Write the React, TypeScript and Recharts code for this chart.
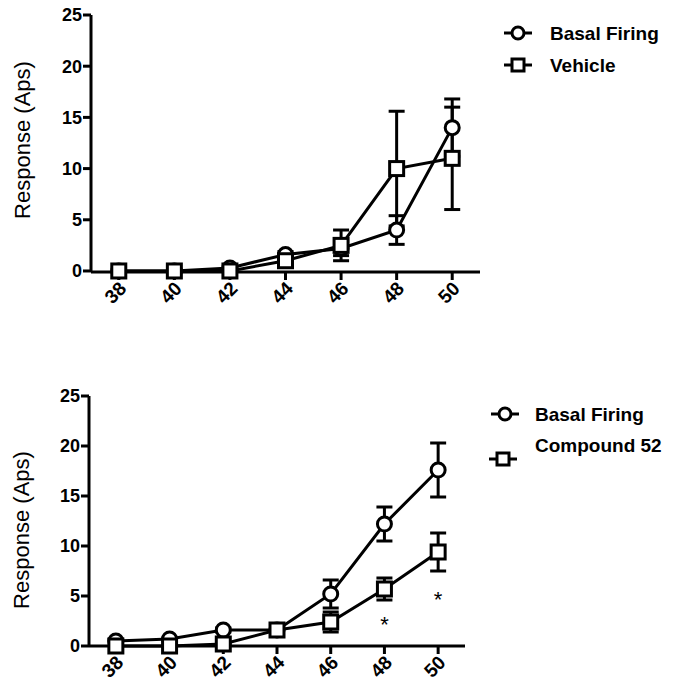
import { ComposedChart, Line, XAxis, YAxis, ErrorBar, Scatter } from "recharts"

const temps = [38, 40, 42, 44, 46, 48, 50]
const xTicks = [38, 40, 42, 44, 46, 48, 50]
const yTicks = [0, 5, 10, 15, 20, 25]

// top panel: basal firing vs vehicle
const basalTop = [0, 0, 0.3, 1.6, 2.2, 4.0, 14.0]
const basalTopErr = [0, 0, 0.2, 0.3, 0.7, 1.4, 2.8]
const vehicleTop = [0, 0, 0, 1.0, 2.5, 10.0, 11.0]
const vehicleTopErr = [0, 0, 0.1, 0.4, 1.5, 5.6, 5.0]

// bottom panel: basal firing vs compound 52
const basalBottom = [0.5, 0.7, 1.6, 1.6, 5.2, 12.2, 17.6]
const basalBottomErr = [0.1, 0.1, 0.2, 0.2, 1.4, 1.7, 2.7]
const compoundBottom = [0, 0, 0.2, 1.6, 2.4, 5.7, 9.4]
const compoundBottomErr = [0, 0, 0.1, 0.2, 1.0, 1.1, 1.9]

// significance markers
const starTemps = [48, 50]
const starValues = [2.6, 5.1]

const FONT = "'Liberation Sans', Arial, Helvetica, sans-serif"

const topRows = temps.map((t, i) => ({
    temp: t,
    a: basalTop[i],
    aErr: basalTopErr[i],
    b: vehicleTop[i],
    bErr: vehicleTopErr[i],
}))

const bottomRows = temps.map((t, i) => ({
    temp: t,
    a: basalBottom[i],
    aErr: basalBottomErr[i],
    b: compoundBottom[i],
    bErr: compoundBottomErr[i],
}))

const starRows = starTemps.map((t, i) => ({ temp: t, star: starValues[i] }))

const XTick = (props: any) => {
    const { x, y, payload, bold } = props
    return (
        <g transform={`translate(${x + 4},${y + 3})`}>
            <text
                x={0}
                y={0}
                dy="0.35em"
                textAnchor="end"
                transform="rotate(-45)"
                fontFamily={FONT}
                fontSize={19}
                fontWeight={bold ? "bold" : "normal"}
                fill="#000"
            >
                {payload.value}
            </text>
        </g>
    )
}

const squareDot = (props: any) => {
    const { cx, cy, index } = props
    if (cx == null || cy == null) return <g key={`sq-${index}`} />
    return (
        <rect
            key={`sq-${index}`}
            x={cx - 7}
            y={cy - 7}
            width={14}
            height={14}
            fill="#fff"
            stroke="#000"
            strokeWidth={3}
        />
    )
}

const starShape = (props: any) => {
    const { cx, cy } = props
    return (
        <text x={cx} y={cy + 12} textAnchor="middle" fontFamily={FONT} fontSize={22} fill="#000">
            *
        </text>
    )
}

function Panel({ rows, top, height, margin, yWidth, xHeight, labelX, labelY, bold, stars }: any) {
    return (
        <div style={{ position: "absolute", left: 0, top }}>
            <ComposedChart width={674} height={height} data={rows} margin={margin}>
                <XAxis
                    dataKey="temp"
                    type="number"
                    domain={[37, 51]}
                    ticks={xTicks}
                    height={xHeight}
                    tickSize={8}
                    tickMargin={2}
                    axisLine={{ stroke: "#000", strokeWidth: 3 }}
                    tickLine={{ stroke: "#000", strokeWidth: 3 }}
                    tick={<XTick bold={bold} />}
                    interval={0}
                />
                <YAxis
                    type="number"
                    domain={[0, 25]}
                    ticks={yTicks}
                    width={yWidth}
                    tickSize={8}
                    tickMargin={1}
                    axisLine={{ stroke: "#000", strokeWidth: 3 }}
                    tickLine={{ stroke: "#000", strokeWidth: 3 }}
                    tick={{ fill: "#000", fontSize: 18, fontWeight: bold ? "bold" : "normal", fontFamily: FONT }}
                    interval={0}
                    label={() => (
                        <text
                            x={labelX}
                            y={labelY}
                            dy="0.35em"
                            textAnchor="middle"
                            transform={`rotate(-90, ${labelX}, ${labelY})`}
                            fontFamily={FONT}
                            fontSize={22}
                            fill="#000"
                        >
                            Response (Aps)
                        </text>
                    )}
                />
                <Line
                    dataKey="a"
                    stroke="#000"
                    strokeWidth={3}
                    isAnimationActive={false}
                    dot={{ r: 7, fill: "#fff", stroke: "#000", strokeWidth: 3 }}
                    activeDot={false}
                >
                    <ErrorBar dataKey="aErr" width={8} stroke="#000" strokeWidth={3} direction="y" />
                </Line>
                <Line
                    dataKey="b"
                    stroke="#000"
                    strokeWidth={3}
                    isAnimationActive={false}
                    dot={squareDot}
                    activeDot={false}
                >
                    <ErrorBar dataKey="bErr" width={8} stroke="#000" strokeWidth={3} direction="y" />
                </Line>
                {stars && (
                    <Scatter data={stars} dataKey="star" shape={starShape} isAnimationActive={false} />
                )}
            </ComposedChart>
        </div>
    )
}

function LegendRow({ shape, iconX, iconY, textX, textY, name, bold }: any) {
    return (
        <g>
            <line x1={iconX - 14} x2={iconX + 14} y1={iconY} y2={iconY} stroke="#000" strokeWidth={3} />
            {shape === "circle" ? (
                <circle cx={iconX} cy={iconY} r={6} fill="#fff" stroke="#000" strokeWidth={3} />
            ) : (
                <rect x={iconX - 6} y={iconY - 6} width={12} height={12} fill="#fff" stroke="#000" strokeWidth={3} />
            )}
            <text
                x={textX}
                y={textY}
                dy="0.35em"
                fontFamily={FONT}
                fontSize={19}
                fontWeight={bold ? "bold" : "normal"}
                fill="#000"
            >
                {name}
            </text>
        </g>
    )
}

export default function App() {
    return (
        <div style={{ position: "absolute", left: 0, top: 0, width: 674, height: 687, background: "#fff" }}>
            <Panel
                rows={topRows}
                top={0}
                height={322}
                margin={{ top: 15, right: 194, left: 0, bottom: 0 }}
                yWidth={91}
                xHeight={50}
                labelX={22}
                labelY={140}
                bold
            />
            <Panel
                rows={bottomRows}
                top={370}
                height={321}
                margin={{ top: 26, right: 209, left: 0, bottom: 0 }}
                yWidth={89}
                xHeight={45}
                labelX={21}
                labelY={160}
                bold
                stars={starRows}
            />
            <svg width={674} height={687} style={{ position: "absolute", left: 0, top: 0, pointerEvents: "none" }}>
                <LegendRow shape="circle" iconX={518} iconY={33} textX={550} textY={33} name="Basal Firing" bold />
                <LegendRow shape="square" iconX={518} iconY={65} textX={550} textY={65} name="Vehicle" bold />
                <LegendRow shape="circle" iconX={505} iconY={414} textX={535} textY={414} name="Basal Firing" bold />
                <LegendRow shape="square" iconX={503} iconY={459} textX={535} textY={445} name="Compound 52" bold />
            </svg>
        </div>
    )
}
